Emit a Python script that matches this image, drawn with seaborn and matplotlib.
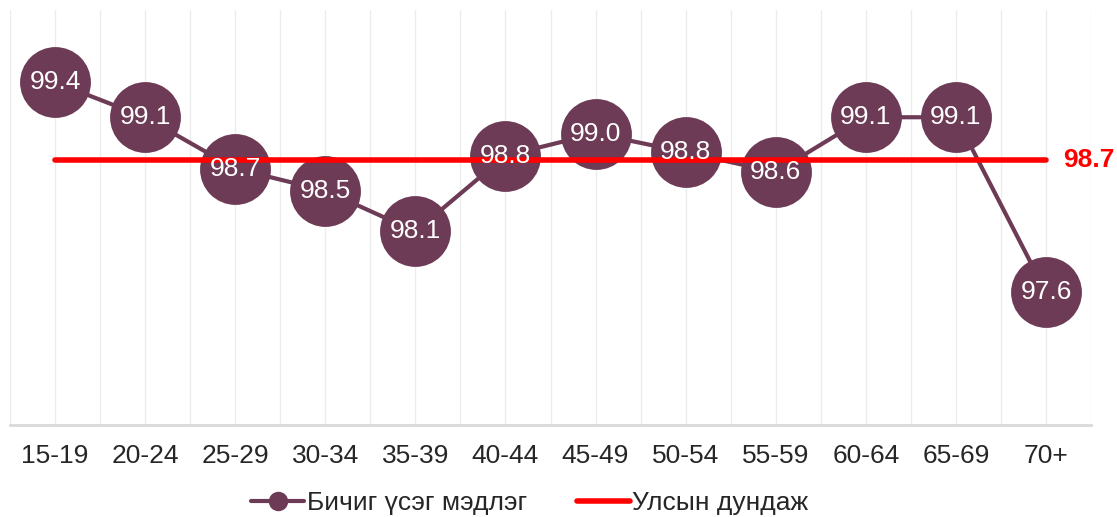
import matplotlib
matplotlib.use("Agg")
import matplotlib.pyplot as plt
import seaborn as sns
import pandas as pd
import numpy as np
from matplotlib.lines import Line2D

categories = ["15-19", "20-24", "25-29", "30-34", "35-39", "40-44",
              "45-49", "50-54", "55-59", "60-64", "65-69", "70+"]
literacy = [99.4, 99.1, 98.66, 98.47, 98.12, 98.77, 98.96, 98.8, 98.63, 99.1, 99.1, 97.6]
national_avg = 98.73
series_name = "Бичиг үсэг мэдлэг"
avg_name = "Улсын дундаж"

sns.set_style("white")
plt.rcParams["font.family"] = ["Liberation Sans", "DejaVu Sans"]

purple = "#6d3b55"
red = "#ff0000"
fs = 19

df = pd.DataFrame({"pos": np.arange(len(categories)), "val": literacy})
df_avg = pd.DataFrame({"pos": np.arange(len(categories)), "val": [national_avg] * len(categories)})

fig = plt.figure(figsize=(11.17, 5.17), dpi=100)
ax = fig.add_axes([10 / 1117, 92 / 517, 1081 / 1117, 415 / 517])

sns.lineplot(data=df, x="pos", y="val", ax=ax, color=purple, linewidth=3,
             marker="o", markersize=51, markeredgewidth=0, zorder=3)
sns.lineplot(data=df_avg, x="pos", y="val", ax=ax, color=red, linewidth=4, zorder=4)

for x, v in zip(df["pos"], df["val"]):
    ax.text(x, v, f"{v:.1f}", ha="center", va="center", color="white",
            fontsize=fs, zorder=6)

ax.text(len(categories) - 1 + 0.19, national_avg, f"{national_avg:.1f}", ha="left",
        va="center", color=red, fontsize=fs, fontweight="bold", clip_on=False)

ax.set_xlim(-0.5, len(categories) - 0.5)
ax.set_ylim(96.46, 100.02)
ax.set_xticks(np.arange(len(categories)))
ax.set_xticklabels(categories, fontsize=fs)
ax.set_yticks([])
ax.set_xlabel("")
ax.set_ylabel("")
ax.tick_params(axis="x", length=0, pad=14)

for g in np.arange(-0.5, len(categories), 0.5):
    ax.axvline(g, color="#ececec", linewidth=1, zorder=0)

for s in ["top", "left", "right"]:
    ax.spines[s].set_visible(False)
ax.spines["bottom"].set_color("#d9d9d9")
ax.spines["bottom"].set_linewidth(2)

handles = [
    Line2D([0], [0], color=purple, linewidth=3, marker="o", markersize=14, markeredgewidth=0),
    Line2D([0], [0], color=red, linewidth=4),
]
leg = ax.legend(handles, [series_name, avg_name], loc="center",
                bbox_to_anchor=(520 / 1081, -78 / 415), ncol=2, frameon=False,
                fontsize=fs, handlelength=2.0, handletextpad=0.1, columnspacing=1.9)

fig.savefig("out.png", dpi=100)
